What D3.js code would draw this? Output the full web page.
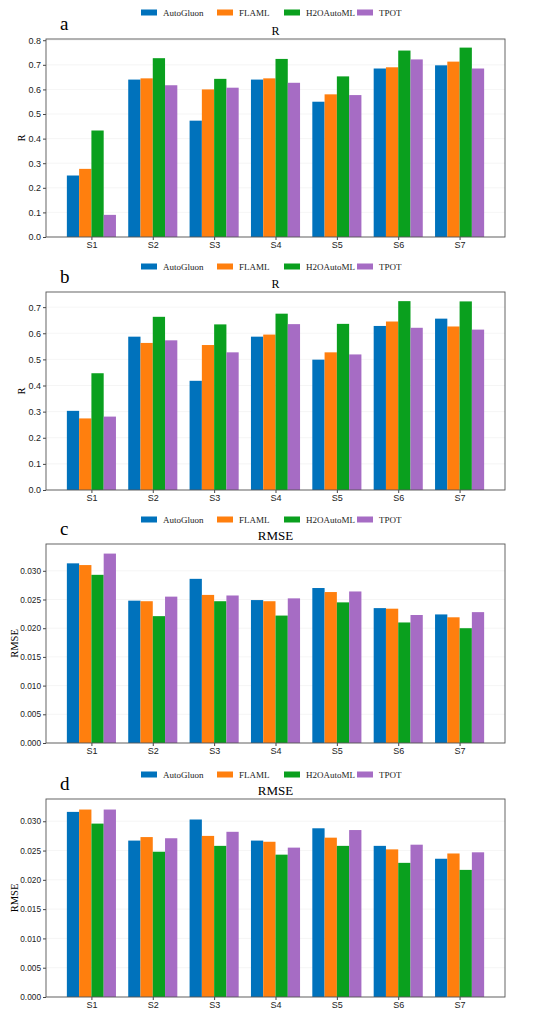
<!DOCTYPE html>
<html><head><meta charset="utf-8">
<script src="https://cdn.jsdelivr.net/npm/d3@7"></script>
<style>body{margin:0;background:#fff}svg{font-family:"Liberation Serif","Times New Roman",serif}</style>
</head><body><svg id="c" width="550" height="1019"></svg>
<script>
const categories=["S1","S2","S3","S4","S5","S6","S7"];
const seriesNames=["AutoGluon","FLAML","H2OAutoML","TPOT"];
const colors=["#0072bc","#ff7f0e","#0aa01e","#a66cc4"];
const aVals=[[.25,.64,.473,.64,.55,.685,.698],[.277,.645,.60,.645,.58,.69,.713],[.433,.727,.643,.724,.653,.758,.77],[.09,.617,.607,.627,.577,.722,.685]];
const bVals=[[.303,.587,.418,.587,.499,.628,.656],[.274,.563,.555,.595,.527,.645,.626],[.447,.663,.634,.675,.636,.723,.722],[.281,.573,.527,.635,.519,.621,.614]];
const cVals=[[.0313,.0248,.0286,.0249,.0270,.0235,.0224],[.0310,.0247,.0258,.0247,.0263,.0234,.0219],[.0293,.0221,.0247,.0222,.0245,.0210,.0200],[.0330,.0255,.0257,.0252,.0264,.0223,.0228]];
const dVals=[[.0316,.0267,.0303,.0267,.0288,.0258,.0236],[.0320,.0273,.0275,.0265,.0272,.0252,.0245],[.0296,.0248,.0258,.0243,.0258,.0229,.0217],[.0320,.0271,.0282,.0255,.0285,.0260,.0247]];
const rTicks=[0,.1,.2,.3,.4,.5,.6,.7,.8];
const rmseTicks=[0,.005,.010,.015,.020,.025,.030];
const panels=[
 {label:"a",title:"R",ylab:"R",vals:aVals,top:39,bottom:237,ymax:0.805,ticks:rTicks,fmt:d3.format(".1f"),leg:13},
 {label:"b",title:"R",ylab:"R",vals:bVals,top:292,bottom:490,ymax:0.758,ticks:rTicks.slice(0,8),fmt:d3.format(".1f"),leg:267},
 {label:"c",title:"RMSE",ylab:"RMSE",vals:cVals,top:544,bottom:743,ymax:0.03467,ticks:rmseTicks,fmt:d3.format(".3f"),leg:520},
 {label:"d",title:"RMSE",ylab:"RMSE",vals:dVals,top:799,bottom:997,ymax:0.0338,ticks:rmseTicks,fmt:d3.format(".3f"),leg:775}
];
const svg=d3.select("#c");
const L=46,R=505;
const x=d3.scaleLinear().domain([-0.74,6.74]).range([L,R]);
const legX=[141,217,284,357];
panels.forEach(p=>{
 const g=svg.append("g");
 const isR=p.ylab==="R";
 const y=d3.scaleLinear().domain([0,p.ymax]).range([p.bottom,p.top]);
 g.selectAll(".gl").data(p.ticks).join("line").attr("x1",L).attr("x2",R).attr("y1",d=>y(d)).attr("y2",d=>y(d)).attr("stroke","#eee").attr("stroke-width",0.6);
 p.vals.forEach((vs,si)=>{
  g.selectAll(null).data(vs).join("rect")
   .attr("x",(d,i)=>x(i-0.4+si*0.2)).attr("width",x(0.2)-x(0))
   .attr("y",d=>y(d)).attr("height",d=>y(0)-y(d)).attr("fill",colors[si]);
 });
 const ya=g.append("g").attr("transform",`translate(${L},0)`).call(d3.axisLeft(y).tickValues(p.ticks).tickFormat(p.fmt).tickSize(3).tickPadding(2));
 const xa=g.append("g").attr("transform",`translate(0,${p.bottom})`).call(d3.axisBottom(x).tickValues(d3.range(7)).tickFormat(i=>categories[i]).tickSize(3).tickPadding(2));
 [ya,xa].forEach(a=>{a.select(".domain").remove();a.selectAll("text").attr("font-size",9).attr("fill","#222");a.selectAll("line").attr("stroke","#444");});
 if(!isR) ya.selectAll("text").attr("font-size",8.3);
 g.append("rect").attr("x",L).attr("y",p.top).attr("width",R-L).attr("height",p.bottom-p.top).attr("fill","none").attr("stroke","#555").attr("stroke-width",0.9);
 g.append("text").attr("x",(L+R)/2).attr("y",p.top-4).attr("text-anchor","middle").attr("font-size",isR?12:13).text(p.title);
 g.append("text").attr("transform",`translate(${isR?25:18},${(p.top+p.bottom)/2}) rotate(-90)`).attr("text-anchor","middle").attr("font-size",10.5).text(p.ylab);
 g.append("text").attr("x",60).attr("y",p.top-9).attr("font-size",19).text(p.label);
 seriesNames.forEach((n,i)=>{
  g.append("rect").attr("x",legX[i]).attr("y",p.leg-3.5).attr("width",16).attr("height",6).attr("fill",colors[i]);
  g.append("text").attr("x",legX[i]+22).attr("y",p.leg+3).attr("font-size",9).attr("fill","#222").text(n);
 });
});
</script></body></html>
